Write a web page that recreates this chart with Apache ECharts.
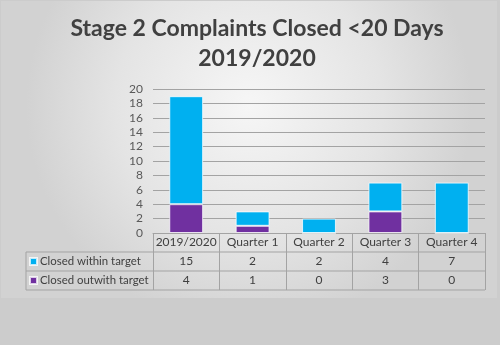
<!DOCTYPE html>
<html>
<head>
<meta charset="utf-8">
<script src="https://cdn.jsdelivr.net/npm/echarts@6/dist/echarts.min.js"></script>
<style>
  html, body { margin: 0; padding: 0; background: #cccccc; }
  #chart { width: 500px; height: 345px; }
</style>
</head>
<body>
<div id="chart"></div>
<script>
// Stage 2 complaints closed within 20 days, 2019/2020
const titleLines = ['Stage 2 Complaints Closed <20 Days', '2019/2020'];
const categories = ['2019/2020', 'Quarter 1', 'Quarter 2', 'Quarter 3', 'Quarter 4'];
const seriesNames = ['Closed within target', 'Closed outwith target'];
const withinTarget = [15, 2, 2, 4, 7];
const outwithTarget = [4, 1, 0, 3, 0];
const yTicks = [0, 2, 4, 6, 8, 10, 12, 14, 16, 18, 20];

const colors = { within: '#00b0f0', outwith: '#7030a0' };
const lineGray = '#a3a3a3';
const font = 'Lato, "Open Sans", sans-serif';

// plot area in pixels; the data table hangs below the x axis
const plot = { left: 153, right: 485, top: 89, bottom: 233 };
const rowH = 19;
const tableLeft = 26;

const chart = echarts.init(document.getElementById('chart'));

chart.setOption({
  animation: false,
  textStyle: { fontFamily: font },
  title: {
    text: titleLines.join('\n'),
    left: 257,
    top: 14,
    padding: 0,
    textAlign: 'center',
    textStyle: { fontSize: 23, fontWeight: 'bold', color: '#404040', lineHeight: 30, fontFamily: font }
  },
  legend: {
    data: seriesNames,
    orient: 'vertical',
    left: tableLeft + 3,
    top: plot.bottom + rowH,
    padding: 0,
    itemGap: 0,
    itemWidth: 7,
    itemHeight: 7,
    icon: 'rect',
    selectedMode: false,
    textStyle: { fontSize: 11.4, color: '#404040', lineHeight: rowH, padding: [0, 0, 0, -2] }
  },
  grid: {
    left: plot.left,
    right: 500 - plot.right,
    top: plot.top,
    bottom: 345 - plot.bottom,
    containLabel: false
  },
  xAxis: {
    type: 'category',
    data: categories,
    axisLine: { show: true, lineStyle: { color: lineGray, width: 1 } },
    axisTick: { show: true, interval: 0, length: rowH * 3, lineStyle: { color: lineGray, width: 1 } },
    axisLabel: {
      interval: 0,
      margin: 0,
      formatter: function (value, idx) {
        return value + '\n' + withinTarget[idx] + '\n' + outwithTarget[idx];
      },
      fontSize: 12,
      color: '#404040',
      lineHeight: rowH
    }
  },
  yAxis: {
    type: 'value',
    min: yTicks[0],
    max: yTicks[yTicks.length - 1],
    interval: yTicks[1] - yTicks[0],
    axisLine: { show: false },
    axisTick: { show: false },
    axisLabel: { fontSize: 12, color: '#595959', margin: 10 },
    splitLine: { lineStyle: { color: lineGray, width: 1 } }
  },
  series: [
    {
      name: seriesNames[1],
      type: 'bar',
      stack: 'total',
      data: outwithTarget,
      barWidth: '51%',
      itemStyle: { color: colors.outwith, borderColor: 'rgba(255,255,255,0.75)', borderWidth: 1 }
    },
    {
      name: seriesNames[0],
      type: 'bar',
      stack: 'total',
      data: withinTarget,
      barWidth: '51%',
      itemStyle: { color: colors.within, borderColor: 'rgba(255,255,255,0.75)', borderWidth: 1 }
    }
  ],
  graphic: [
    // card background with a soft radial sheen
    {
      type: 'rect',
      z: -10,
      silent: true,
      shape: { x: 1, y: 1, width: 496, height: 297 },
      style: {
        fill: {
          type: 'radial', x: 0.5, y: 0.35, r: 0.75,
          colorStops: [
            { offset: 0, color: '#f6f6f6' },
            { offset: 0.6, color: '#e4e4e4' },
            { offset: 1, color: '#d2d2d2' }
          ]
        }
      }
    },
    // data table rules: row separators and the legend column border
    {
      type: 'line', silent: true, z: 5,
      shape: { x1: tableLeft, y1: plot.bottom + rowH, x2: plot.right, y2: plot.bottom + rowH },
      style: { stroke: lineGray, lineWidth: 1 }
    },
    {
      type: 'line', silent: true, z: 5,
      shape: { x1: tableLeft, y1: plot.bottom + rowH * 2, x2: plot.right, y2: plot.bottom + rowH * 2 },
      style: { stroke: lineGray, lineWidth: 1 }
    },
    {
      type: 'line', silent: true, z: 5,
      shape: { x1: tableLeft, y1: plot.bottom + rowH * 3, x2: plot.right, y2: plot.bottom + rowH * 3 },
      style: { stroke: lineGray, lineWidth: 1 }
    },
    {
      type: 'line', silent: true, z: 5,
      shape: { x1: tableLeft, y1: plot.bottom + rowH, x2: tableLeft, y2: plot.bottom + rowH * 3 },
      style: { stroke: lineGray, lineWidth: 1 }
    }
  ]
});
</script>
</body>
</html>
